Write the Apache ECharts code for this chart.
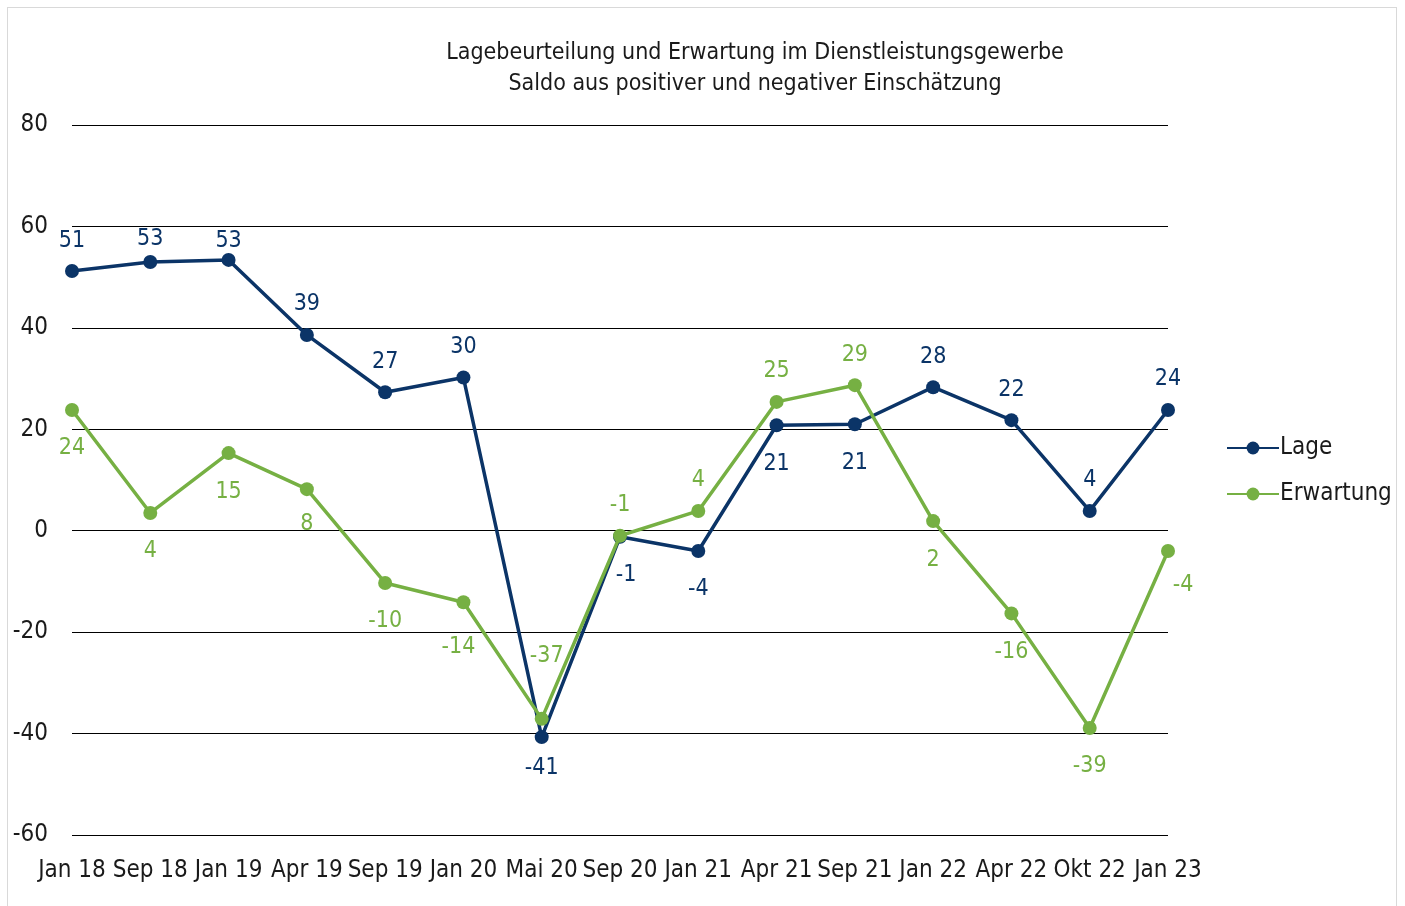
<!DOCTYPE html>
<html>
<head>
<meta charset="utf-8">
<script src="https://cdn.jsdelivr.net/npm/echarts@6/dist/echarts.min.js"></script>
<style>
  html, body { margin: 0; padding: 0; background: #fff; }
  .frame {
    position: absolute;
    left: 7px; top: 7px;
    width: 1390px; height: 905px;
    border: 1px solid #d9d9d9;
    box-sizing: border-box;
  }
  #chart {
    position: absolute;
    left: 0; top: 0;
    width: 1405px; height: 906px;
  }
</style>
</head>
<body>
<div class="frame"></div>
<div id="chart"></div>
<script>
// Stichtage
const categories = ['Jan 18', 'Sep 18', 'Jan 19', 'Apr 19', 'Sep 19', 'Jan 20', 'Mai 20', 'Sep 20',
  'Jan 21', 'Apr 21', 'Sep 21', 'Jan 22', 'Apr 22', 'Okt 22', 'Jan 23'];
// Saldo Lage
const lage = [51.2, 53, 53.4, 38.6, 27.3, 30.2, -40.7, -1.2, -4, 20.8, 21, 28.3, 21.8, 3.9, 23.8];
// Saldo Erwartung
const erwartung = [23.8, 3.5, 15.3, 8.2, -10.3, -14.1, -37.1, -1, 3.9, 25.4, 28.7, 1.9, -16.3, -38.9, -4];
const yTicks = [-60, -40, -20, 0, 20, 40, 60, 80];

// Lage der Datenbeschriftungen je Punkt
const lagePos = ['top', 'top', 'top', 'top', 'top', 'top', 'bottom', 'bottom', 'bottom', 'bottom', 'bottom', 'top', 'top', 'top', 'top'];
const erwPos = ['bottom', 'bottom', 'bottom', 'bottom', 'bottom', 'bottom', 'top', 'top', 'top', 'top', 'top', 'bottom', 'bottom', 'bottom', 'bottom'];

const FONT = '"DejaVu Sans Condensed", "Noto Sans", sans-serif';
const NAVY = '#0b3467';
const GREEN = '#76b043';

function withLabels(values, pos, extra) {
  return values.map((v, i) => {
    const item = { value: v, label: { position: pos[i], distance: pos[i] === 'top' ? 12 : 20 } };
    if (extra[i]) Object.assign(item.label, extra[i]);
    return item;
  });
}

const myChart = echarts.init(document.getElementById('chart'));

const option = {
  animation: false,
  title: {
    text: 'Lagebeurteilung und Erwartung im Dienstleistungsgewerbe\nSaldo aus positiver und negativer Einschätzung',
    left: 750,
    textAlign: 'center',
    top: 33,
    textStyle: {
      fontFamily: FONT,
      fontSize: 23,
      fontWeight: 'normal',
      color: '#1a1a1a',
      lineHeight: 31
    }
  },
  legend: {
    orient: 'vertical',
    left: 1221,
    top: 431,
    itemWidth: 52,
    itemHeight: 16,
    itemGap: 22,
    textStyle: { fontFamily: FONT, fontSize: 24, color: '#1a1a1a', padding: [0, 0, 0, -4] },
    data: ['Lage', 'Erwartung']
  },
  grid: {
    left: 72,
    right: 237,
    top: 125,
    bottom: 71,
    containLabel: false
  },
  xAxis: {
    type: 'category',
    data: categories,
    boundaryGap: false,
    axisLine: { show: false },
    axisTick: { show: false },
    axisLabel: {
      interval: 0,
      margin: 24,
      fontFamily: FONT,
      fontSize: 24,
      color: '#1a1a1a'
    }
  },
  yAxis: {
    type: 'value',
    min: yTicks[0],
    max: yTicks[yTicks.length - 1],
    interval: 20,
    axisLine: { show: false },
    axisTick: { show: false },
    splitLine: { lineStyle: { color: '#000', width: 1 } },
    axisLabel: {
      margin: 24,
      padding: [8, 0, 0, 0],
      fontFamily: FONT,
      fontSize: 24,
      color: '#1a1a1a'
    }
  },
  series: [
    {
      name: 'Lage',
      type: 'line',
      data: withLabels(lage, lagePos, {
        0: { distance: 12 },
        1: { distance: 4 },
        2: { distance: 0 },
        6: { distance: 12 },
        7: { offset: [6, 0] }
      }),
      color: NAVY,
      symbol: 'circle',
      symbolSize: 14,
      lineStyle: { width: 3.5, color: NAVY },
      itemStyle: { color: NAVY },
      label: {
        show: true,
        fontFamily: FONT,
        fontSize: 23,
        color: NAVY,
        formatter: p => String(Math.round(p.value))
      },
      z: 3
    },
    {
      name: 'Erwartung',
      type: 'line',
      data: withLabels(erwartung, erwPos, {
        3: { distance: 16 },
        5: { distance: 26, offset: [-5, 0] },
        6: { distance: 44, offset: [5, 0] },
        14: { offset: [15, -4] }
      }),
      color: GREEN,
      symbol: 'circle',
      symbolSize: 14,
      lineStyle: { width: 3.5, color: GREEN },
      itemStyle: { color: GREEN },
      label: {
        show: true,
        fontFamily: FONT,
        fontSize: 23,
        color: GREEN,
        formatter: p => String(Math.round(p.value))
      },
      z: 4
    }
  ]
};

myChart.setOption(option);

window.addEventListener('resize', () => {
  myChart.resize();
});
</script>
</body>
</html>
